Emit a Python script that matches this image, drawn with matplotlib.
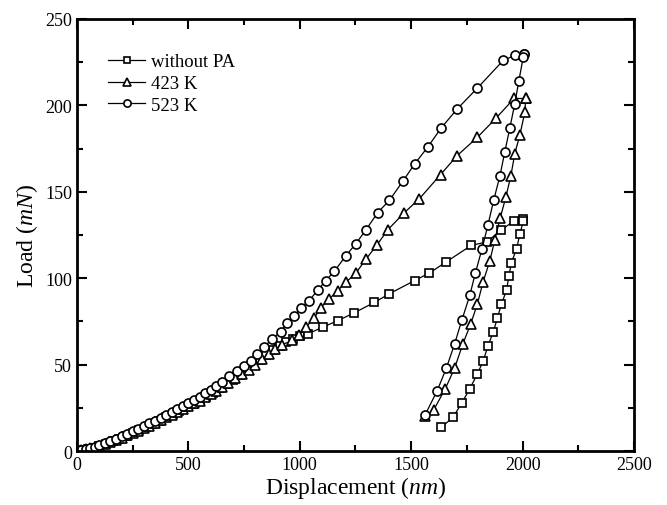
import matplotlib
matplotlib.use('Agg')
import matplotlib.pyplot as plt
from matplotlib.ticker import MultipleLocator

plt.rcParams['font.family'] = ['Liberation Serif', 'DejaVu Serif']
plt.rcParams['mathtext.fontset'] = 'custom'
plt.rcParams['mathtext.rm'] = 'Liberation Serif'
plt.rcParams['mathtext.it'] = 'Liberation Serif:italic'

# ---- data ----
# without PA: loading then unloading
sq_load_x = [0, 25, 50, 75, 100, 130, 160, 190, 220, 250, 280, 310, 340, 370, 400, 430, 460, 490,
             520, 550, 580, 610, 640, 670, 700, 730, 760, 790, 820, 850, 880, 910, 940, 970, 1000,
             1035, 1102, 1170, 1245, 1335, 1402, 1515, 1582, 1658, 1770, 1840, 1905, 1960, 2003]
sq_load_y = [0, 0.5, 1.1, 2.0, 3.0, 4.3, 5.6, 7.0, 8.7, 10.4, 12.1, 13.8, 15.6, 17.5, 19.4, 21.3, 23.3, 25.2,
             27.2, 29.2, 31.4, 33.7, 36.2, 38.7, 41.3, 44.0, 46.8, 49.7, 52.6, 55.5, 58.2, 60.8, 63.2, 65.0, 66.5,
             67.7, 71.6, 75.4, 80.0, 86.0, 91.0, 98.6, 103.0, 109.5, 119.0, 121.0, 128.0, 133.0, 134.0]
sq_unl_x = [2003, 1988, 1973, 1950, 1938, 1928, 1905, 1887, 1868, 1845, 1823, 1797, 1763, 1728, 1688, 1635]
sq_unl_y = [133, 125.6, 117, 109, 101, 93, 85, 77, 68.7, 61, 52, 44.6, 36, 28, 19.5, 13.7]

# 423 K
tri_load_x = [0, 20, 40, 60, 80, 100, 125, 150, 175, 200, 225, 250, 275, 300, 325, 350, 375, 400, 425, 450,
              475, 500, 525, 550, 575, 600, 625, 650, 680, 710, 740, 770, 800, 830, 860, 890, 920, 967, 997,
              1027, 1065, 1095, 1132, 1170, 1207, 1252, 1297, 1345, 1395, 1470, 1537, 1632, 1707, 1797, 1880,
              1962, 2014]
tri_load_y = [0, 0.4, 0.9, 1.5, 2.2, 3.0, 4.0, 5.1, 6.3, 7.6, 9.0, 10.4, 11.8, 13.2, 14.7, 16.2, 17.8, 19.4,
              21.0, 22.6, 24.2, 25.8, 27.5, 29.2, 31.0, 32.9, 34.9, 37.0, 39.5, 42.0, 44.5, 47.0, 50.0, 53.0,
              56.0, 59.0, 61.5, 64.0, 67.0, 71.6, 77.0, 83.0, 88.0, 92.8, 97.6, 103.0, 111.0, 119.0, 128.0,
              138.0, 146.0, 160.0, 171.0, 181.5, 192.5, 204.0, 204.0]
tri_unl_x = [2014, 2010, 1988, 1965, 1947, 1925, 1900, 1875, 1853, 1823, 1797, 1767, 1732, 1695, 1653, 1602, 1560]
tri_unl_y = [204, 196, 183, 172, 159, 147, 135, 122, 110, 98, 85, 73.5, 62, 48, 36, 24, 20]

# 523 K
cir_load_x = [0, 20, 40, 60, 80, 100, 125, 150, 175, 200, 225, 250, 275, 300, 325, 350, 375, 400, 425, 450,
              475, 500, 525, 550, 575, 600, 625, 650, 682, 719, 749, 779, 809, 839, 877, 914, 944, 974, 1005,
              1042, 1080, 1117, 1155, 1207, 1252, 1297, 1350, 1402, 1462, 1515, 1575, 1635, 1707, 1797, 1913,
              1965, 2005]
cir_load_y = [0, 0.5, 1.1, 1.8, 2.6, 3.5, 4.6, 5.8, 7.1, 8.5, 10.0, 11.5, 13.0, 14.5, 16.0, 17.5, 19.2, 21.0,
              22.7, 24.5, 26.2, 28.0, 29.7, 31.5, 33.5, 35.5, 37.7, 40.0, 43.6, 46.2, 49.0, 52.0, 56.0, 60.0,
              65.0, 69.0, 74.0, 78.0, 83.0, 87.0, 93.0, 98.6, 104.0, 113.0, 120.0, 128.0, 138.0, 145.0, 156.0,
              166.0, 176.0, 187.0, 198.0, 210.0, 226.0, 229.0, 230.0]
cir_unl_x = [2005, 2003, 1983, 1965, 1943, 1920, 1898, 1870, 1845, 1818, 1788, 1763, 1728, 1695, 1658, 1617, 1563]
cir_unl_y = [230, 228, 214, 201, 187, 173, 159, 145, 131, 117, 103, 90, 76, 62, 48, 35, 21]

labels = ['without PA', '423 K', '523 K']
markers = ['s', '^', 'o']

fig = plt.figure(figsize=(6.67, 5.06), dpi=100)
ax = fig.add_axes([0.1154, 0.1067, 0.8351, 0.8538])

series = [(sq_load_x, sq_load_y, sq_unl_x, sq_unl_y),
          (tri_load_x, tri_load_y, tri_unl_x, tri_unl_y),
          (cir_load_x, cir_load_y, cir_unl_x, cir_unl_y)]
msizes = [6, 7, 6.5]

for (lx, ly, ux, uy), lab, mk, ms in zip(series, labels, markers, msizes):
    style = dict(color='black', lw=0.9, marker=mk, markersize=ms,
                 markerfacecolor='white', markeredgecolor='black', markeredgewidth=1.2)
    ax.plot(lx + ux, ly + uy, label=lab, **style)

ax.set_xlim(0, 2500)
ax.set_ylim(0, 250)
ax.xaxis.set_major_locator(MultipleLocator(500))
ax.xaxis.set_minor_locator(MultipleLocator(250))
ax.yaxis.set_major_locator(MultipleLocator(50))
ax.yaxis.set_minor_locator(MultipleLocator(25))
ax.tick_params(which='both', direction='in', top=True, right=True, labelsize=13, width=1.5)
ax.tick_params(which='major', length=7)
ax.tick_params(which='minor', length=4)
for sp in ax.spines.values():
    sp.set_linewidth(2)

ax.set_xlabel(r'Displacement ($\mathit{nm}$)', fontsize=17, labelpad=1)
ax.set_ylabel(r'Load ($\mathit{mN}$)', fontsize=17, labelpad=4)

ax.legend(loc='upper left', frameon=False, fontsize=13.5, handlelength=2.0,
          handletextpad=0.3, labelspacing=0.25, bbox_to_anchor=(0.025, 0.96), markerscale=0.8)

fig.savefig('out.png', dpi=100)
